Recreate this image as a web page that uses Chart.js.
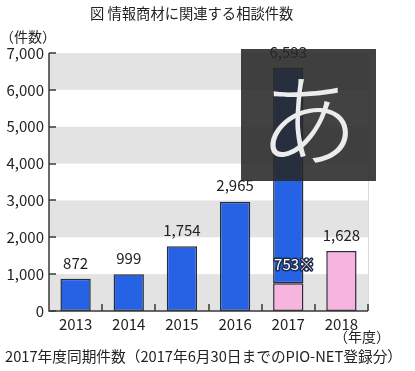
<!DOCTYPE html>
<html>
<head>
<meta charset="utf-8">
<script src="https://cdn.jsdelivr.net/npm/chart.js@4"></script>
<style>
  body { margin: 0; background: #fff; font-family: "Noto Sans CJK JP", sans-serif; }
  #wrap { position: relative; width: 415px; height: 371px; overflow: hidden; }
  canvas { position: absolute; left: 0; top: 0; }
  .txt { position: absolute; color: #222; white-space: nowrap; line-height: 1; }
  #ime { position: absolute; left: 241px; top: 49px; width: 135px; height: 132px;
         background: rgba(40,40,40,0.88); color: #ececec; font-size: 100px; font-weight: 300;
         display: flex; align-items: center; justify-content: center; line-height: 1; }
</style>
</head>
<body>
<div id="wrap">
  <canvas id="infoChart" width="415" height="371"></canvas>
  <div class="txt" style="left:90px; top:6px; font-size:14.3px;">図 情報商材に関連する相談件数</div>
  <div class="txt" style="left:0px; top:29px; font-size:14px;">（件数）</div>
  <div class="txt" style="left:334px; top:329px; font-size:14px;">（年度）</div>
  <div class="txt" style="left:5px; top:349px; font-size:14.7px;">2017年度同期件数（2017年6月30日までのPIO-NET登録分）</div>
  <div id="ime">あ</div>
</div>
<script>
const years = ["2013", "2014", "2015", "2016", "2017", "2018"];
const fullYearCounts = [872, 999, 1754, 2965, 6593, null];
const sameTermCounts = [null, null, null, null, 753, 1628];
const yTicks = [0, 1000, 2000, 3000, 4000, 5000, 6000, 7000];

const blueColor = "#2563E4";
const pinkColor = "#F6B4DE";
const edgeColor = "#2a2a3c";
const fontFamily = "'Noto Sans CJK JP', sans-serif";

// blue part sits on top of the pink same-term part in 2017
const bluePart = fullYearCounts.map((v, i) => v == null ? null : v - (sameTermCounts[i] || 0));

const bandsPlugin = {
    id: "bands",
    beforeDraw(chart) {
        const { ctx, chartArea, scales } = chart;
        const y = scales.y;
        ctx.save();
        ctx.fillStyle = "#e3e3e3";
        for (let i = 0; i < yTicks.length - 1; i += 2) {
            const top = y.getPixelForValue(yTicks[i + 1]);
            const bottom = y.getPixelForValue(yTicks[i]);
            ctx.fillRect(chartArea.left, top, chartArea.right - chartArea.left, bottom - top);
        }
        ctx.strokeStyle = "#dcdcdc";
        ctx.lineWidth = 1;
        ctx.beginPath();
        ctx.moveTo(chartArea.right + 0.5, chartArea.top);
        ctx.lineTo(chartArea.right + 0.5, chartArea.bottom);
        ctx.stroke();
        ctx.restore();
    }
};

const axisPlugin = {
    id: "axisTicks",
    afterDatasetsDraw(chart) {
        const { ctx, chartArea, scales } = chart;
        const x = scales.x, y = scales.y;
        ctx.save();
        ctx.strokeStyle = "#3a3a3a";
        ctx.lineWidth = 1.5;
        ctx.beginPath();
        ctx.moveTo(chartArea.left, chartArea.top);
        ctx.lineTo(chartArea.left, chartArea.bottom);
        ctx.lineTo(chartArea.right, chartArea.bottom);
        ctx.stroke();
        ctx.beginPath();
        yTicks.forEach(v => {
            const py = Math.round(y.getPixelForValue(v));
            ctx.moveTo(chartArea.left, py);
            ctx.lineTo(chartArea.left + 7, py);
        });
        for (let i = 0; i < years.length; i++) {
            const px = Math.round((x.getPixelForValue(i) + x.getPixelForValue(i + 1)) / 2);
            ctx.moveTo(px, chartArea.bottom);
            ctx.lineTo(px, chartArea.bottom - 7);
        }
        ctx.stroke();

        // value labels
        ctx.font = "15px " + fontFamily;
        ctx.textAlign = "center";
        ctx.textBaseline = "middle";
        ctx.fillStyle = "#222";
        years.forEach((yr, i) => {
            const total = fullYearCounts[i] != null ? fullYearCounts[i] : sameTermCounts[i];
            const px = x.getPixelForValue(i);
            const py = y.getPixelForValue(total);
            ctx.fillText(total.toLocaleString("en-US"), px, py - 16);
        });

        // same-term label inside the 2017 bar
        const pinkMeta = chart.getDatasetMeta(0);
        const el = pinkMeta.data[4];
        const left = el.x - el.width / 2;
        ctx.textAlign = "left";
        ctx.lineWidth = 3;
        ctx.lineJoin = "round";
        ctx.strokeStyle = "#1e2a4a";
        ctx.fillStyle = "#fff";
        const txt = sameTermCounts[4].toLocaleString("en-US") + "※";
        ctx.strokeText(txt, left + 1, el.y - 19);
        ctx.fillText(txt, left + 1, el.y - 19);
        ctx.restore();
    }
};

new Chart(document.getElementById("infoChart"), {
    type: "bar",
    data: {
        labels: years,
        datasets: [
            {
                label: "同期件数",
                data: sameTermCounts,
                backgroundColor: pinkColor,
                borderColor: edgeColor,
                borderWidth: 1.5,
                borderSkipped: false,
                barPercentage: 0.57,
                categoryPercentage: 1
            },
            {
                label: "件数",
                data: bluePart,
                backgroundColor: blueColor,
                borderColor: edgeColor,
                borderWidth: 1.5,
                borderSkipped: false,
                barPercentage: 0.57,
                categoryPercentage: 1
            }
        ]
    },
    options: {
        responsive: false,
        animation: false,
        layout: { padding: { left: 0, right: 47, top: 53, bottom: 0 } },
        plugins: {
            legend: { display: false },
            tooltip: { enabled: false }
        },
        scales: {
            x: {
                stacked: true,
                grid: { display: false, drawTicks: false },
                border: { display: false },
                afterFit(scale) { scale.height = 60; },
                ticks: {
                    color: "#222",
                    padding: 4,
                    font: { family: fontFamily, size: 15 }
                }
            },
            y: {
                stacked: true,
                min: 0,
                max: 7000,
                grid: { display: false, drawTicks: false },
                border: { display: false },
                afterFit(scale) { scale.width = 49; },
                ticks: {
                    stepSize: 1000,
                    padding: 5,
                    color: "#222",
                    font: { family: fontFamily, size: 15 },
                    callback: v => v.toLocaleString("en-US")
                }
            }
        }
    },
    plugins: [bandsPlugin, axisPlugin]
});
</script>
</body>
</html>
